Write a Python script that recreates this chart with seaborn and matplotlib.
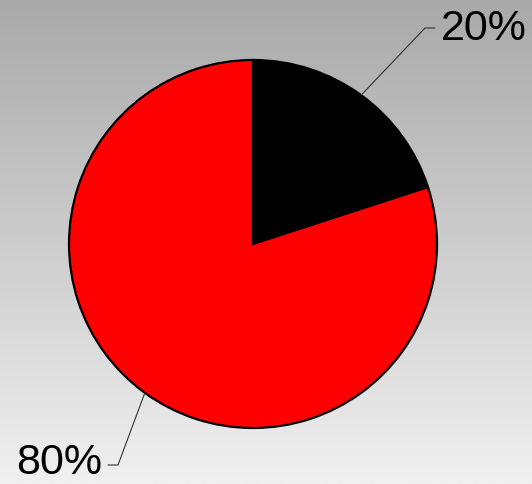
import numpy as np
import matplotlib
matplotlib.use('Agg')
import matplotlib.pyplot as plt
import seaborn as sns

# Dados
labels = ['20%', '80%']
values = [20, 80]
colors = ['#000000', '#ff0000']

sns.set_style('white')
plt.rcParams['font.family'] = ['Liberation Sans', 'DejaVu Sans']

W, H = 532, 485
fig = plt.figure(figsize=(W / 100, H / 100), dpi=100)

# fundo em degradê
bg = fig.add_axes([0, 0, 1, 1], zorder=0)
grad = np.linspace(0, 1, 256).reshape(-1, 1)
cmap_bg = matplotlib.colors.LinearSegmentedColormap.from_list('g', ['#a9a9a9', '#f0f0f0'])
bg.imshow(grad, aspect='auto', cmap=cmap_bg, extent=[0, 1, 0, 1], origin='upper')
bg.axis('off')

ax = fig.add_axes([0, 0, 1, 1], zorder=1)
ax.patch.set_alpha(0)

center = (253, 240)
radius = 184
wedges, _ = ax.pie(values, colors=colors, startangle=90, counterclock=False,
                   center=center, radius=radius, frame=True,
                   wedgeprops=dict(edgecolor='black', linewidth=1.6))
ax.set_xlim(0, W)
ax.set_ylim(0, H)
ax.set_aspect('equal')
ax.axis('off')

# rótulos com linhas de chamada
elbows = [(425, 456), (118, 19)]
text_dy = [0, 3]
for w, lab, (ex, ey), dy in zip(wedges, labels, elbows, text_dy):
    ang = np.deg2rad((w.theta1 + w.theta2) / 2)
    x0 = center[0] + radius * np.cos(ang)
    y0 = center[1] + radius * np.sin(ang)
    side = 1 if ex > center[0] else -1
    x2 = ex + side * 10
    ax.plot([x0, ex, x2], [y0, ey, ey], color='#333333', lw=0.8, zorder=3)
    ax.text(x2 + side * 6, ey + dy, lab, fontsize=31, ha='left' if side > 0 else 'right',
            va='center', color='black', zorder=3)

fig.savefig('out.png', dpi=100)
